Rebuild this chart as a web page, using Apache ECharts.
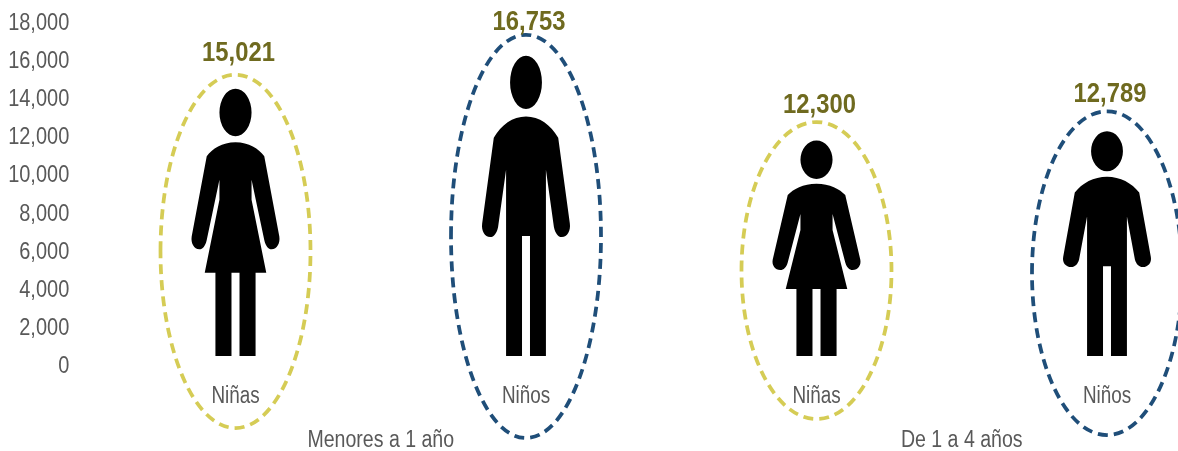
<!DOCTYPE html>
<html>
<head>
<meta charset="utf-8">
<style>html,body{margin:0;padding:0;background:#fff}#c{width:1178px;height:451px}</style>
<script src="https://cdn.jsdelivr.net/npm/echarts@6/dist/echarts.min.js"></script>
</head>
<body>
<div id="c"></div>
<script>
const categories = ['Niñas', 'Niños', 'Niñas', 'Niños'];
const groups = ['Menores a 1 año', 'De 1 a 4 años'];
const values = [15021, 16753, 12300, 12789];
const yTicks = [0, 2000, 4000, 6000, 8000, 10000, 12000, 14000, 16000, 18000];

const FONT = '"Liberation Sans",Arial,sans-serif';
const GREY = '#595959';
const OLIVE = '#6F6A1F';
const GIRL_RING = '#D5CC55';
const BOY_RING = '#1F4E79';

const GIRL = 'M-48,71 A48,71 0 1 1 48,71 A48,71 0 1 1 -48,71 Z ' +
  'M0,160 C40,160 70,180 86,202 L131,442 C134,462 124,480 108,480 C98,480 90,470 86,452 L48,272 L48,332 L92,550 L60,550 L60,799 L12,799 L12,550 L-12,550 L-12,799 L-60,799 L-60,550 L-92,550 L-48,332 L-48,272 L-86,452 C-90,470 -98,480 -108,480 C-124,480 -134,462 -131,442 L-86,202 C-70,180 -40,160 0,160 Z';
const BOY = 'M-48,79 A48,79 0 1 1 48,79 A48,79 0 1 1 -48,79 Z ' +
  'M0,180 C40,180 75,205 97,243 L132,498 C135,520 124,538 108,538 C96,538 88,526 84,508 L60,338 L60,891 L12,891 L12,535 L-12,535 L-12,891 L-60,891 L-60,338 L-84,508 C-88,526 -96,538 -108,538 C-124,538 -135,520 -132,498 L-97,243 C-75,205 -40,180 0,180 Z';

// hand-placed annotation offsets (px), per figure
const RING_LIFT = [4, 11, 8.6, 10];
const RING_DROP = [63, 73, 54, 70];
const LABEL_LIFT = [25, 23, 25, 27];

function condensed(text, x, y, font, fill, align, squeeze) {
  return {
    type: 'text', x: x, y: y, scaleX: squeeze,
    style: { text: text, x: 0, y: 0, align: align, verticalAlign: 'middle', font: font, fill: fill }
  };
}

function renderPerson(params, api) {
  const i = params.dataIndex;
  const top = api.coord([api.value(0), api.value(1)]);
  const base = api.coord([api.value(0), 0]);
  const girl = i % 2 === 0;
  const cx = top[0];
  const figTop = top[1] + 10;
  const figBottom = base[1] - 9;
  const ringTop = top[1] - RING_LIFT[i];
  const ringBottom = base[1] + RING_DROP[i];
  return {
    type: 'group',
    children: [
      {
        type: 'ellipse',
        shape: { cx: cx, cy: (ringTop + ringBottom) / 2, rx: 75, ry: (ringBottom - ringTop) / 2 },
        style: { fill: 'none', stroke: girl ? GIRL_RING : BOY_RING, lineWidth: 3.75, lineDash: [10, 6] }
      },
      {
        type: 'path',
        shape: {
          pathData: girl ? GIRL : BOY,
          layout: 'cover',
          x: cx - 44, y: figTop, width: 88, height: figBottom - figTop
        },
        style: { fill: '#000' }
      },
      condensed(api.value(1).toLocaleString('en-US'), cx + 3, top[1] - LABEL_LIFT[i], 'bold 28px ' + FONT, OLIVE, 'center', 0.85),
      condensed(categories[i], cx, base[1] + 32, '23px ' + FONT, GREY, 'center', 0.82)
    ]
  };
}

function renderTick(params, api) {
  const p = api.coord([0, api.value(0)]);
  return condensed(api.value(0).toLocaleString('en-US'), params.coordSys.x - 21, p[1] + 1.5, '23.5px ' + FONT, GREY, 'right', 0.85);
}

function renderGroup(params, api) {
  const p = api.coord([api.value(0), 0]);
  return condensed(groups[params.dataIndex], p[0], p[1] + 76, '23px ' + FONT, GREY, 'center', 0.85);
}

const hidden = { axisLine: { show: false }, axisTick: { show: false }, splitLine: { show: false }, axisLabel: { show: false } };

const chart = echarts.init(document.getElementById('c'), null, { renderer: 'canvas' });
chart.setOption({
  animation: false,
  backgroundColor: '#fff',
  grid: { left: 90.25, top: 22, width: 1162, height: 343, containLabel: false, outerBoundsMode: 'none' },
  xAxis: [
    Object.assign({ type: 'category', data: categories, position: 'bottom' }, hidden),
    Object.assign({ type: 'category', data: groups, position: 'bottom' }, hidden)
  ],
  yAxis: Object.assign({ type: 'value', min: 0, max: 18000, interval: 2000 }, hidden),
  series: [
    { type: 'custom', xAxisIndex: 0, clip: false, renderItem: renderPerson, encode: { x: 0, y: 1 }, data: values.map((v, i) => [i, v]) },
    { type: 'custom', xAxisIndex: 0, clip: false, renderItem: renderTick, encode: { y: 0 }, data: yTicks.map(t => [t]) },
    { type: 'custom', xAxisIndex: 1, clip: false, renderItem: renderGroup, encode: { x: 0 }, data: groups.map((g, i) => [i]) }
  ]
});
</script>
</body>
</html>
